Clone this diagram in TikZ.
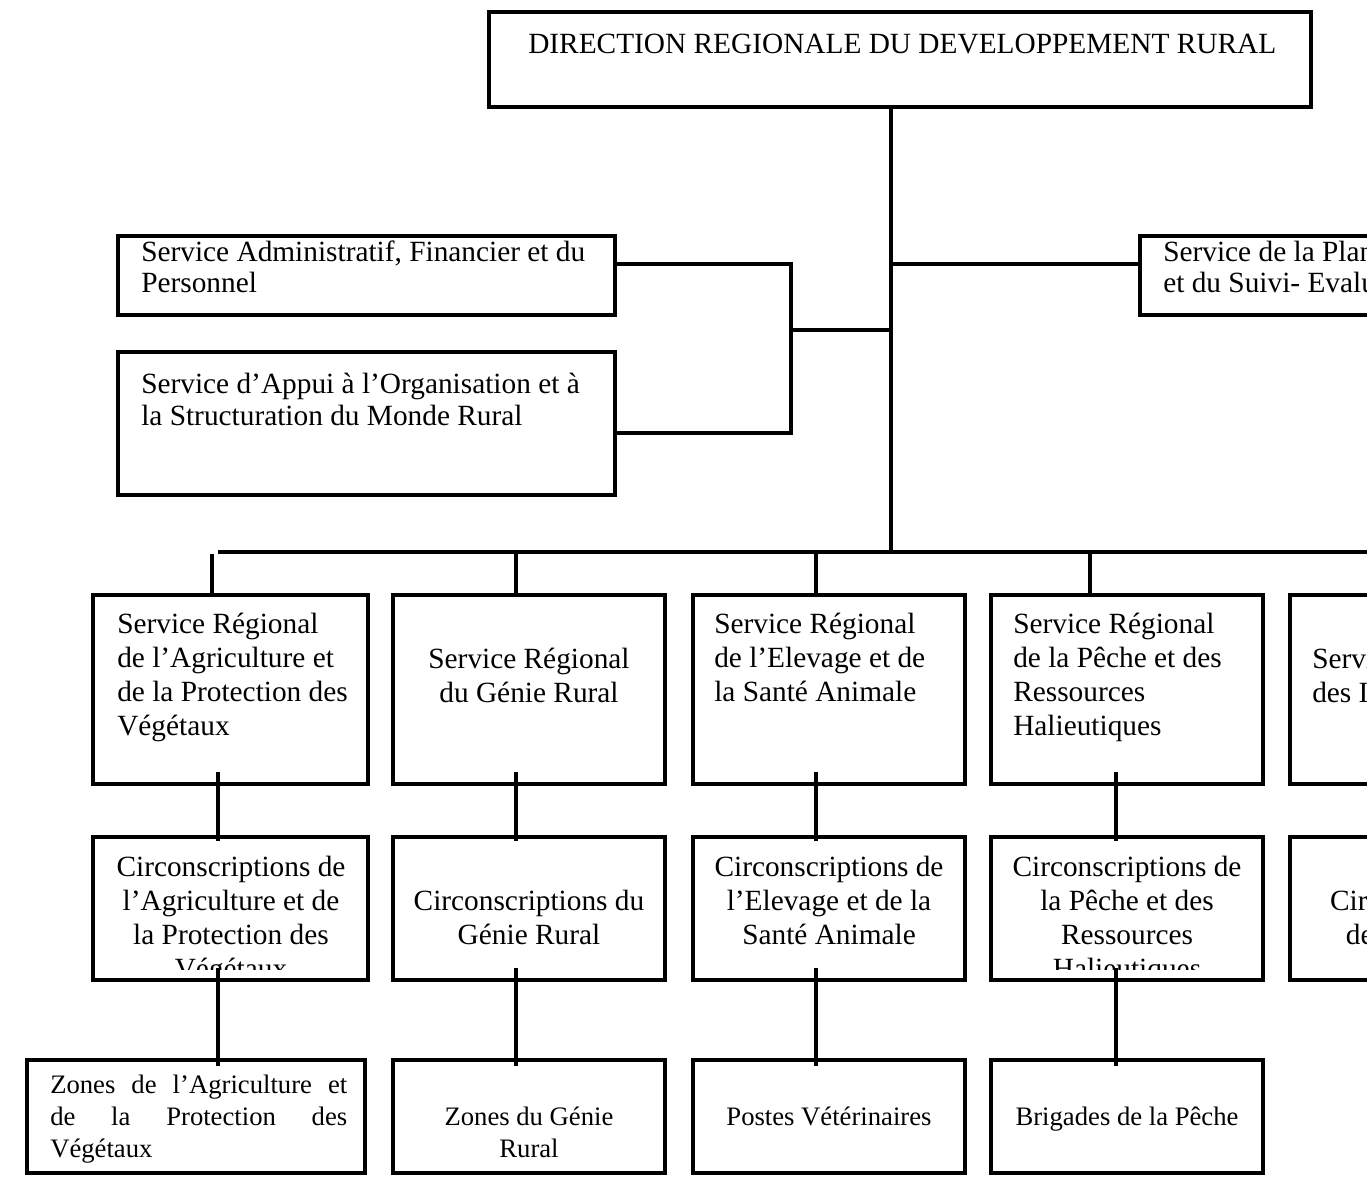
\documentclass[tikz,border=0pt]{standalone}
\usepackage{fontspec}
\setmainfont{Liberation Serif}
\usetikzlibrary{fit,calc}
\begin{document}
\begin{tikzpicture}[x=0.75pt,y=-0.75pt,
  box/.style={draw=black, line width=3pt, inner sep=0pt, rectangle},
  conn/.style={draw=black, line width=3.4pt},
  every node/.style={execute at begin node={\spaceskip=0pt\xspaceskip=0pt}},
  ttl/.style={inner sep=0pt, anchor=base west, font=\fontsize{22}{25.5}\selectfont},
  ltA/.style={inner sep=0pt, anchor=base west, align=left, text width=420pt, font=\fontsize{22}{24}\selectfont},
  ltB/.style={inner sep=0pt, anchor=base west, align=left, text width=200pt, font=\fontsize{22}{25.5}\selectfont},
  ctB/.style={inner sep=0pt, anchor=base, text width=200pt, font=\fontsize{22}{25.5}\selectfont,
    execute at begin node={\centering\spaceskip=0pt\xspaceskip=0pt}},
  ctC/.style={inner sep=0pt, anchor=base, text width=200pt, font=\fontsize{20}{24}\selectfont,
    execute at begin node={\centering\spaceskip=0pt\xspaceskip=0pt}},
  jC/.style={inner sep=0pt, anchor=base west, align=left, text width=222.75pt, font=\fontsize{20}{24}\selectfont}
]
\path[use as bounding box, fill=white] (0,0) rectangle (1367,1177);
\clip (0,0) rectangle (1367,1177);

% ---------- boxes ----------
\node[box, fit={(489,12) (1311,107)}] (dir) {};
\node[box, fit={(118,236) (615,315)}] (adm) {};
\node[box, fit={(118,352) (615,495)}] (org) {};
\node[box, fit={(1140,236) (1700,315)}] (plan) {};

\node[box, fit={(93,595) (368,784)}] (sA) {};
\node[box, fit={(393,595) (665,784)}] (sB) {};
\node[box, fit={(693,595) (965,784)}] (sC) {};
\node[box, fit={(991,595) (1263,784)}] (sD) {};
\node[box, fit={(1290,595) (1565,784)}] (sE) {};

\node[box, fit={(93,837) (368,980)}] (cA) {};
\node[box, fit={(393,837) (665,980)}] (cB) {};
\node[box, fit={(693,837) (965,980)}] (cC) {};
\node[box, fit={(991,837) (1263,980)}] (cD) {};
\node[box, fit={(1290,837) (1565,980)}] (cE) {};

\node[box, fit={(27,1060) (365,1173)}] (zA) {};
\node[box, fit={(393,1060) (665,1173)}] (zB) {};
\node[box, fit={(693,1060) (965,1173)}] (zC) {};
\node[box, fit={(991,1060) (1263,1173)}] (zD) {};

% ---------- texts ----------
\node[ttl] (tDir) at (528,54) {DIRECTION REGIONALE DU DEVELOPPEMENT RURAL};
\node[ltA] (tAdm) at (141,261) {Service Administratif, Financier et du\\Personnel};
\node[ltA] (tOrg) at (141,393) {Service d’Appui à l’Organisation et à\\la Structuration du Monde Rural};
\node[ltA] (tPlan) at (1163,261) {Service de la Planification\\et du Suivi- Evaluation};

\node[ltB] (tsA) at (117,633) {Service Régional\\de l’Agriculture et\\de la Protection des\\Végétaux};
\node[ctB] (tsB) at (529,668) {Service Régional\\du Génie Rural};
\node[ltB] (tsC) at (714,633) {Service Régional\\de l’Elevage et de\\la Santé Animale};
\node[ltB] (tsD) at (1013,633) {Service Régional\\de la Pêche et des\\Ressources\\Halieutiques};
\node[ltB] (tsE) at (1312,668) {Service Régional\\des Industries};

\begin{scope}
\clip (93,837) rectangle (1370,969);
\node[ctB] (tcA) at (231,876) {Circonscriptions de\\l’Agriculture et de\\la Protection des\\Végétaux};
\node[ctB] (tcB) at (529,910) {Circonscriptions du\\Génie Rural};
\node[ctB] (tcC) at (829,876) {Circonscriptions de\\l’Elevage et de la\\Santé Animale};
\node[ctB] (tcD) at (1127,876) {Circonscriptions de\\la Pêche et des\\Ressources\\Halieutiques};
\node[ctB] (tcE) at (1427,910) {Circonscriptions\\des Industries};
\end{scope}

\node[jC] (tzA) at (50,1093) {\makebox[\linewidth][s]{Zones de l’Agriculture et}\\\makebox[\linewidth][s]{de la Protection des}\\Végétaux};
\node[ctC] (tzB) at (529,1125) {Zones du Génie\\Rural};
\node[ctC] (tzC) at (829,1125) {Postes Vétérinaires};
\node[ctC] (tzD) at (1127,1125) {Brigades de la Pêche};

% ---------- connectors ----------
\coordinate (bus) at (891,552);
\coordinate (busL) at (218,552);
\coordinate (busR) at (1372,552);
\coordinate (jS) at (891,264);
\coordinate (jM) at (891,330);
\coordinate (brk) at (791,433);

\draw[conn] (dir.south -| bus) -- (bus);
\draw[conn] (busL) -- (busR);
\draw[conn] (jS) -- (jS -| plan.west);
\draw[conn] (adm.east |- jS) -| (brk) -- (brk -| org.east);
\draw[conn] (jM) -- (jM -| brk);

\coordinate (tA) at (212,554);
\coordinate (tB) at (516,552);
\coordinate (tC) at (816,552);
\coordinate (tD) at (1090,552);
\draw[conn] (tA) -- ($(tA |- sA.north)+(0,3)$);
\draw[conn] (tB) -- ($(tB |- sB.north)+(0,3)$);
\draw[conn] (tC) -- ($(tC |- sC.north)+(0,3)$);
\draw[conn] (tD) -- ($(tD |- sD.north)+(0,3)$);

\coordinate (vA) at (218,772);
\coordinate (vB) at (516,772);
\coordinate (vC) at (816,772);
\coordinate (vD) at (1116,772);
\draw[conn] (vA) -- ($(vA |- cA.north)+(0,6)$);
\draw[conn] (vB) -- ($(vB |- cB.north)+(0,6)$);
\draw[conn] (vC) -- ($(vC |- cC.north)+(0,6)$);
\draw[conn] (vD) -- ($(vD |- cD.north)+(0,6)$);

\coordinate (wA) at (218,968);
\coordinate (wB) at (516,968);
\coordinate (wC) at (816,968);
\coordinate (wD) at (1116,968);
\draw[conn] (wA) -- ($(wA |- zA.north)+(0,8)$);
\draw[conn] (wB) -- ($(wB |- zB.north)+(0,8)$);
\draw[conn] (wC) -- ($(wC |- zC.north)+(0,8)$);
\draw[conn] (wD) -- ($(wD |- zD.north)+(0,8)$);
\end{tikzpicture}
\end{document}
